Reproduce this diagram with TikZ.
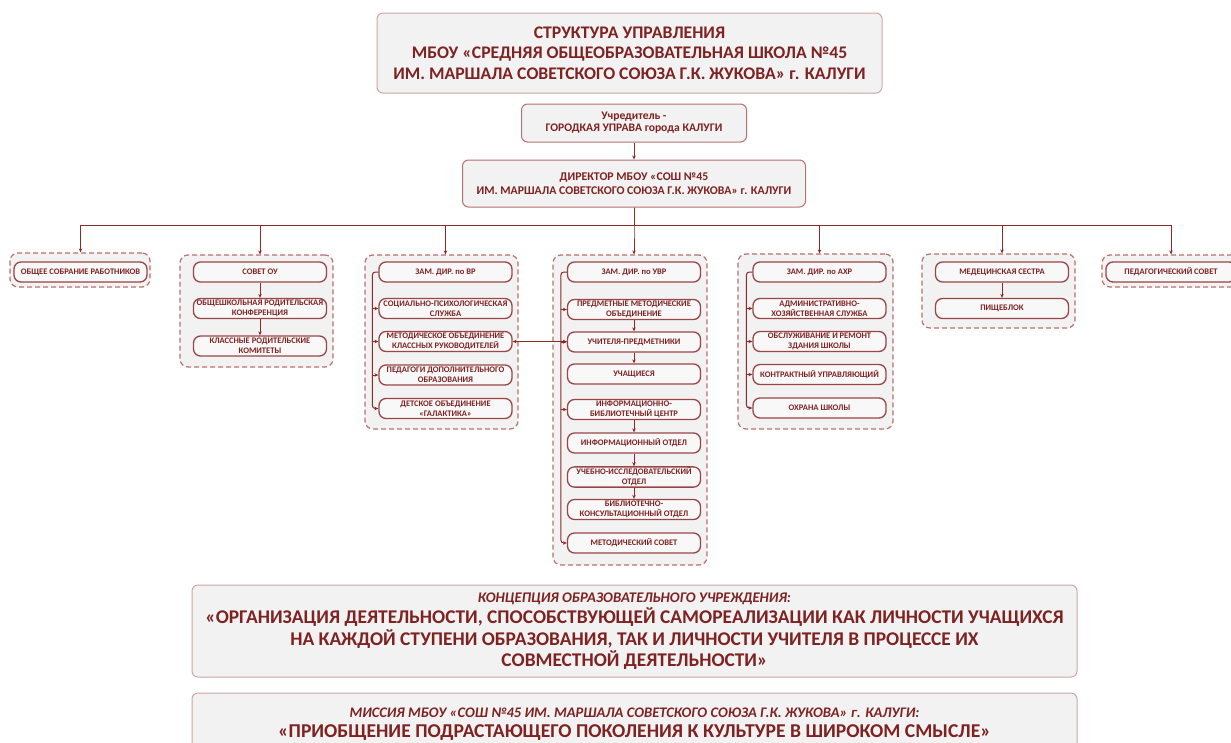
\documentclass[tikz,border=0pt]{standalone}
\usepackage{fontspec}
\setmainfont{Carlito}
\usepackage{tikz}
\usetikzlibrary{arrows.meta}
\definecolor{txt}{HTML}{7E2222}
\definecolor{lnk}{HTML}{8C2A2A}
\definecolor{brd}{HTML}{9A4646}
\definecolor{dsh}{HTML}{B87070}
\definecolor{ttl}{HTML}{CFA6A6}
\definecolor{bg}{HTML}{F2F2F2}

\begin{document}
\begin{tikzpicture}[x=1pt, y=-1pt,
    B/.style = {rectangle, rounded corners=7pt, draw=brd, line width=1.3pt,% styles of small boxes
                fill=bg!50!white, minimum width=133pt, minimum height=20pt,
                inner sep=1pt, align=center, text=txt,
                font=\fontsize{8.5}{10}\selectfont\bfseries},
    G/.style = {rectangle, rounded corners=8pt, draw=dsh, line width=1.2pt,% styles of dashed groups
                dash pattern=on 5pt off 3pt, fill=bg},
    T/.style = {rectangle, rounded corners=6pt, draw=ttl, line width=1pt,
                fill=bg, align=center, inner sep=0pt, text=txt},
    E/.style = {draw=lnk, line width=1pt, -{Stealth[length=4pt,width=3.5pt]}},
                        ]
\useasboundingbox (0,0) rectangle (1231,742);
\clip (0,0) rectangle (1231,742);
\fill[white] (0,0) rectangle (1231,742);
% head
\node[T, minimum width=505pt, minimum height=80pt,
      font=\fontsize{17.7}{20.7}\selectfont\bfseries] (ttl) at (629.5,53)
      {СТРУКТУРА УПРАВЛЕНИЯ\\МБОУ «СРЕДНЯЯ ОБЩЕОБРАЗОВАТЕЛЬНАЯ ШКОЛА №45\\ИМ. МАРШАЛА СОВЕТСКОГО СОЮЗА Г.К. ЖУКОВА» г. КАЛУГИ};
\node[T, draw=dsh, minimum width=225pt, minimum height=38pt,
      font=\fontsize{11.6}{12}\selectfont\bfseries] (uchr) at (634,123)
      {Учредитель -\\ГОРОДКАЯ УПРАВА города КАЛУГИ};
\node[T, draw=dsh, minimum width=343pt, minimum height=47pt,
      font=\fontsize{11.8}{14.3}\selectfont\bfseries] (dir) at (634,183.5)
      {ДИРЕКТОР МБОУ «СОШ №45\\ИМ. МАРШАЛА СОВЕТСКОГО СОЮЗА Г.К. ЖУКОВА» г. КАЛУГИ};
% groups
\node[G, minimum width=140pt, minimum height=34pt]  (g-1) at (80,270) {};
\node[G, minimum width=153pt, minimum height=112pt] (g-2) at (256.5,311) {};
\node[G, minimum width=153pt, minimum height=174pt] (g-3) at (441.5,342) {};
\node[G, minimum width=154pt, minimum height=310pt] (g-4) at (630,410) {};
\node[G, minimum width=155pt, minimum height=175pt] (g-5) at (815.5,341.5) {};
\node[G, minimum width=153pt, minimum height=74pt]  (g-6) at (998.5,291) {};
\node[G, minimum width=138pt, minimum height=32pt]  (g-7) at (1171,271) {};
% boxes
\node[B] (os) at (80.5,272) {ОБЩЕЕ СОБРАНИЕ РАБОТНИКОВ};
\foreach \i/\y [count=\k] in {СОВЕТ ОУ/272,
        ОБЩЕШКОЛЬНАЯ РОДИТЕЛЬСКАЯ\\КОНФЕРЕНЦИЯ/308.5,
        КЛАССНЫЕ РОДИТЕЛЬСКИЕ\\КОМИТЕТЫ/346}% <-- content of nodes
    \node[B] (so-\k) at (260,\y) {\i};
\foreach \i/\y [count=\k] in {ЗАМ. ДИР. по ВР/272,
        СОЦИАЛЬНО-ПСИХОЛОГИЧЕСКАЯ\\СЛУЖБА/308.5,
        МЕТОДИЧЕСКОЕ ОБЪЕДИНЕНИЕ\\КЛАССНЫХ РУКОВОДИТЕЛЕЙ/341.5,
        ПЕДАГОГИ ДОПОЛНИТЕЛЬНОГО\\ОБРАЗОВАНИЯ/375,
        ДЕТСКОЕ ОБЪЕДИНЕНИЕ\\«ГАЛАКТИКА»/408.5}% <-- content of nodes
    \node[B] (vr-\k) at (445.5,\y) {\i};
\foreach \i/\y [count=\k] in {ЗАМ. ДИР. по УВР/272,
        ПРЕДМЕТНЫЕ МЕТОДИЧЕСКИЕ\\ОБЪЕДИНЕНИЕ/309.5,
        УЧИТЕЛЯ-ПРЕДМЕТНИКИ/342,
        УЧАЩИЕСЯ/374,
        ИНФОРМАЦИОННО-\\БИБЛИОТЕЧНЫЙ ЦЕНТР/409.5,
        ИНФОРМАЦИОННЫЙ ОТДЕЛ/443,
        УЧЕБНО-ИССЛЕДОВАТЕЛЬСКИЙ\\ОТДЕЛ/477,
        БИБЛИОТЕЧНО-\\КОНСУЛЬТАЦИОННЫЙ ОТДЕЛ/509.5,
        МЕТОДИЧЕСКИЙ СОВЕТ/543}% <-- content of nodes
    \node[B] (uvr-\k) at (634,\y) {\i};
\foreach \i/\y [count=\k] in {ЗАМ. ДИР. по АХР/272,
        АДМИНИСТРАТИВНО-\\ХОЗЯЙСТВЕННАЯ СЛУЖБА/308.5,
        ОБСЛУЖИВАНИЕ И РЕМОНТ\\ЗДАНИЯ ШКОЛЫ/341.5,
        КОНТРАКТНЫЙ УПРАВЛЯЮЩИЙ/374.5,
        ОХРАНА ШКОЛЫ/408}% <-- content of nodes
    \node[B] (ahr-\k) at (819.5,\y) {\i};
\foreach \i/\y [count=\k] in {МЕДЕЦИНСКАЯ СЕСТРА/272, ПИЩЕБЛОК/308.5}
    \node[B] (med-\k) at (1002,\y) {\i};
\node[B, minimum width=130pt] (ps) at (1171,272) {ПЕДАГОГИЧЕСКИЙ СОВЕТ};
% links
\draw[E] (uchr) -- (dir);
\coordinate (bus) at ([yshift=-18pt]dir.south);
\foreach \g/\n in {g-1/os, g-2/so-1, g-3/vr-1, g-4/uvr-1, g-5/ahr-1, g-6/med-1, g-7/ps}
    \draw[E] (dir.south) -- (bus) -| (\g.north -| \n.north);
\draw[E] (so-1) -- (so-2);
\draw[E] (so-2) -- (so-3);
\foreach \a/\b in {2/3, 3/4, 5/6, 6/7, 7/8}
    \draw[E] (uvr-\a) -- (uvr-\b);
\draw[E] (med-1) -- (med-2);
% side lines
\coordinate (vrL) at ([xshift=-6pt]vr-1.west);
\draw[E, rounded corners=3pt] (vr-1.west) -- (vrL) |- (vr-5.west);
\foreach \k in {2,3,4}
    \draw[E] (vrL |- vr-\k.west) -- (vr-\k.west);
\coordinate (uvrL) at ([xshift=-6pt]uvr-1.west);
\draw[E, rounded corners=3pt] (uvr-1.west) -- (uvrL) |- (uvr-9.west);
\foreach \k in {2,3,5}
    \draw[E] (uvrL |- uvr-\k.west) -- (uvr-\k.west);
\coordinate (ahrL) at ([xshift=-6pt]ahr-1.west);
\draw[E, rounded corners=3pt] (ahr-1.west) -- (ahrL) |- (ahr-5.west);
\foreach \k in {2,3,4}
    \draw[E] (ahrL |- ahr-\k.west) -- (ahr-\k.west);
\draw[E, {Stealth[length=4pt,width=3.5pt]}-{Stealth[length=4pt,width=3.5pt]}]
    (vr-3.east) -- (vr-3.east -| uvr-3.west);
% foot
\node[T, minimum width=885pt, minimum height=92pt,
      font=\fontsize{19.4}{21.5}\selectfont\bfseries] (cnc) at (634.5,631)
      {{\fontsize{14.7}{20}\selectfont\itshape КОНЦЕПЦИЯ ОБРАЗОВАТЕЛЬНОГО УЧРЕЖДЕНИЯ:}\\
       «ОРГАНИЗАЦИЯ ДЕЯТЕЛЬНОСТИ, СПОСОБСТВУЮЩЕЙ САМОРЕАЛИЗАЦИИ КАК ЛИЧНОСТИ УЧАЩИХСЯ\\
       НА КАЖДОЙ СТУПЕНИ ОБРАЗОВАНИЯ, ТАК И ЛИЧНОСТИ УЧИТЕЛЯ В ПРОЦЕССЕ ИХ\\
       СОВМЕСТНОЙ ДЕЯТЕЛЬНОСТИ»};
\node[T, minimum width=885pt, minimum height=62pt,
      font=\fontsize{19.6}{20}\selectfont\bfseries] (msn) at (634.5,724)
      {{\fontsize{14.6}{20}\selectfont\itshape МИССИЯ МБОУ «СОШ №45 ИМ. МАРШАЛА СОВЕТСКОГО СОЮЗА Г.К. ЖУКОВА» г. КАЛУГИ:}\\
       «ПРИОБЩЕНИЕ ПОДРАСТАЮЩЕГО ПОКОЛЕНИЯ К КУЛЬТУРЕ В ШИРОКОМ СМЫСЛЕ»};
\end{tikzpicture}
\end{document}
